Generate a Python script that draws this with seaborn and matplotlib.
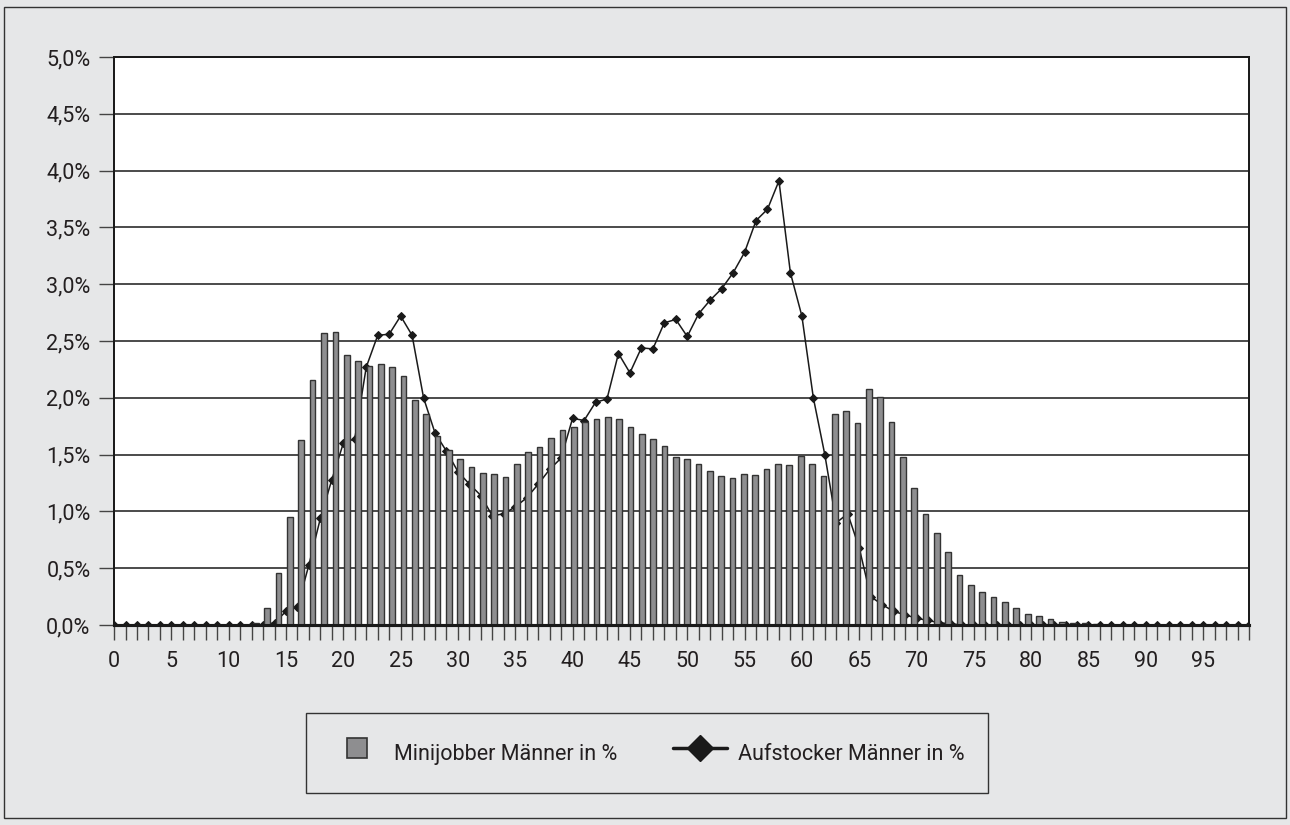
import pandas as pd
import seaborn as sns
import matplotlib.pyplot as plt
from matplotlib.lines import Line2D
from matplotlib.patches import Rectangle
from matplotlib.ticker import MultipleLocator, FuncFormatter

# Alter 0..99, Anteile in Prozent
ages = list(range(100))

minijobber = [
    0, 0, 0, 0, 0, 0, 0, 0, 0, 0,
    0, 0, 0.02, 0.15, 0.46, 0.95, 1.63, 2.16, 2.57, 2.58,
    2.38, 2.32, 2.28, 2.30, 2.27, 2.19, 1.98, 1.86, 1.66, 1.54,
    1.46, 1.39, 1.34, 1.33, 1.30, 1.42, 1.52, 1.57, 1.65, 1.72,
    1.74, 1.79, 1.81, 1.83, 1.81, 1.74, 1.68, 1.64, 1.58, 1.48,
    1.46, 1.42, 1.36, 1.31, 1.29, 1.33, 1.32, 1.37, 1.42, 1.41,
    1.49, 1.42, 1.31, 1.86, 1.88, 1.78, 2.08, 2.01, 1.79, 1.48,
    1.21, 0.98, 0.81, 0.64, 0.44, 0.35, 0.29, 0.25, 0.20, 0.15,
    0.10, 0.08, 0.05, 0.03, 0.02, 0.02, 0.01, 0, 0, 0,
    0, 0, 0, 0, 0, 0, 0, 0, 0, 0,
]

aufstocker = [
    0, 0, 0, 0, 0, 0, 0, 0, 0, 0,
    0, 0, 0, 0, 0.02, 0.12, 0.16, 0.53, 0.94, 1.28,
    1.60, 1.64, 2.27, 2.55, 2.56, 2.72, 2.55, 2.00, 1.69, 1.53,
    1.35, 1.24, 1.14, 0.96, 0.98, 1.04, 1.12, 1.24, 1.37, 1.47,
    1.82, 1.80, 1.96, 1.99, 2.39, 2.22, 2.44, 2.43, 2.66, 2.69,
    2.54, 2.74, 2.86, 2.96, 3.10, 3.28, 3.56, 3.66, 3.91, 3.10,
    2.72, 2.00, 1.50, 0.90, 0.98, 0.68, 0.25, 0.18, 0.12, 0.09,
    0.06, 0.04, 0.02, 0.01, 0, 0, 0, 0, 0, 0,
    0, 0, 0, 0, 0, 0, 0, 0, 0, 0,
    0, 0, 0, 0, 0, 0, 0, 0, 0, 0,
]

labels = ['Minijobber Männer in %', 'Aufstocker Männer in %']

bg = '#e6e7e8'
bar_color = '#8e8e90'
edge = '#333333'
ink = '#231f20'

sns.set_theme(style='white')
plt.rcParams['font.family'] = ['Roboto', 'DejaVu Sans']
plt.rcParams['text.color'] = ink

fig, ax = plt.subplots(figsize=(12.9, 8.25), dpi=100)
fig.patch.set_facecolor(bg)
fig.subplots_adjust(left=0.0884, right=0.9682, bottom=0.2424, top=0.9309)
ax.set_facecolor('white')

# line (drawn below the bars, as in the original)
sns.lineplot(x=ages, y=aufstocker, ax=ax, color='#1a1a1a', linewidth=1.1,
             marker='D', markersize=4.5, markeredgecolor='#1a1a1a')

# bars on a twin x axis: categories sit between the ticks
ax_bar = ax.twiny()
df = pd.DataFrame({'Alter': ages, 'Minijobber': minijobber})
sns.barplot(data=df, x='Alter', y='Minijobber', ax=ax_bar, color=bar_color,
            edgecolor=edge, linewidth=1, width=0.5, saturation=1)
ax_bar.set_xlim(-0.5, 99.5)
ax_bar.set_xlabel('')
ax_bar.set_ylabel('')
ax_bar.tick_params(top=False, labeltop=False, bottom=False, labelbottom=False)

ax.set_xlim(0, 99)
ax.set_ylim(0, 5)
ax.set_xlabel('')
ax.set_ylabel('')
ax.yaxis.set_major_locator(MultipleLocator(0.5))
ax.yaxis.set_major_formatter(FuncFormatter(lambda v, p: f"{v:.1f}%".replace('.', ',')))
ax.xaxis.set_major_locator(MultipleLocator(5))
ax.xaxis.set_minor_locator(MultipleLocator(1))
ax.tick_params(axis='x', which='both', direction='out', length=11, width=1,
               color='#444444', bottom=True, labelsize=15.5, labelcolor=ink, pad=8)
ax.tick_params(axis='y', direction='out', length=11, width=1, color='#444444',
               left=True, labelsize=15.5, labelcolor=ink, pad=6)
ax.grid(axis='y', color='#1a1a1a', linewidth=1.1)
ax.grid(axis='x', visible=False)
ax.set_axisbelow(True)

for a in (ax, ax_bar):
    for side in ['left', 'top', 'right']:
        a.spines[side].set_color('#1a1a1a')
        a.spines[side].set_linewidth(1.3)
    a.spines['bottom'].set_color('#1a1a1a')
    a.spines['bottom'].set_linewidth(2.2)

# outer frame of the figure
fig.add_artist(Rectangle((4 / 1290, 7 / 825), 1282 / 1290, 811 / 825,
                         transform=fig.transFigure, fill=False,
                         edgecolor='#333333', linewidth=1))

h1 = Line2D([], [], linestyle='none', marker='s', markersize=15,
            markerfacecolor=bar_color, markeredgecolor=edge, markeredgewidth=1.2)
h2 = Line2D([], [], color='#1a1a1a', linewidth=2.5, marker='D', markersize=13,
            markerfacecolor='#1a1a1a', markeredgecolor='#1a1a1a')
leg = fig.legend([h1, h2], labels, loc='center', bbox_to_anchor=(0.5016, 0.0873),
                 ncol=2, fontsize=15.5, frameon=True, fancybox=False,
                 edgecolor='#333333', facecolor=bg, framealpha=1,
                 borderpad=1.1, handlelength=2.5, handleheight=2,
                 handletextpad=0.5, columnspacing=2.6)
leg.get_frame().set_linewidth(1)

plt.savefig('out.png', dpi=100, facecolor=bg)
